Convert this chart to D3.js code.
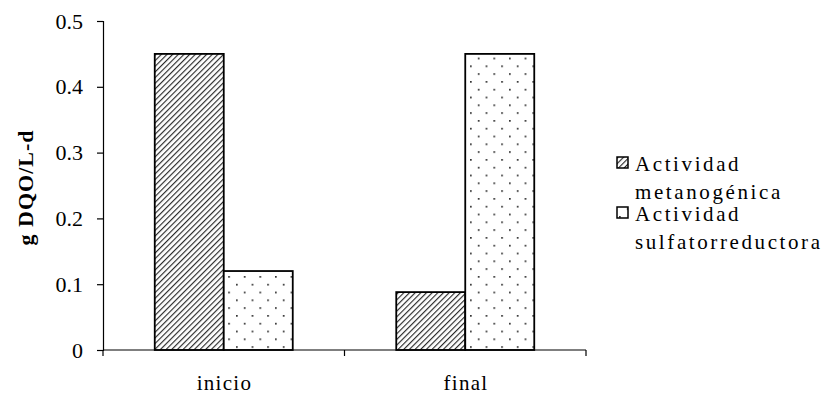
<!DOCTYPE html>
<html>
<head>
<meta charset="utf-8">
<script src="https://cdn.jsdelivr.net/npm/d3@7"></script>
<style>
  html, body { margin: 0; padding: 0; background: #fff; }
  text { font-family: "Liberation Serif", "Times New Roman", serif; fill: #000; }
</style>
</head>
<body>
<svg id="chart" width="830" height="403"></svg>
<script>
// Activity per stage (g DQO/L-d)
const categories = ["inicio", "final"];
const seriesNames = ["Actividad metanogénica", "Actividad sulfatorreductora"];
const metanogenica = [0.45, 0.088];
const sulfatorreductora = [0.12, 0.45];
const yTicks = [0, 0.1, 0.2, 0.3, 0.4, 0.5];
const yTickLabels = ["0", "0.1", "0.2", "0.3", "0.4", "0.5"];
const legendLines = [["Actividad", "metanogénica"], ["Actividad", "sulfatorreductora"]];

const svg = d3.select("#chart");
const margin = { left: 103, right: 244, top: 21, bottom: 53 };
const W = 830, H = 403;

// fill patterns: diagonal hatch and sparse dots
const defs = svg.append("defs");
const hatch = defs.append("pattern")
  .attr("id", "hatch").attr("patternUnits", "userSpaceOnUse")
  .attr("width", 4).attr("height", 4)
  .attr("patternTransform", "rotate(45)");
hatch.append("rect").attr("width", 4).attr("height", 4).attr("fill", "#fff");
hatch.append("line").attr("x1", 0).attr("y1", 0).attr("x2", 0).attr("y2", 4)
  .attr("stroke", "#2a2a2a").attr("stroke-width", 2.3);

const dots = defs.append("pattern")
  .attr("id", "dots").attr("patternUnits", "userSpaceOnUse")
  .attr("width", 15.6).attr("height", 15.6).attr("x", 2).attr("y", 3);
dots.append("rect").attr("width", 15.6).attr("height", 15.6).attr("fill", "#fff");
dots.append("rect").attr("x", 0).attr("y", 0).attr("width", 1.7).attr("height", 1.7).attr("fill", "#333");
dots.append("rect").attr("x", 7.8).attr("y", 7.8).attr("width", 1.7).attr("height", 1.7).attr("fill", "#333");

const x0 = d3.scaleBand().domain(categories)
  .range([margin.left, W - margin.right]).paddingInner(0).paddingOuter(0);
const x1 = d3.scaleBand().domain(seriesNames)
  .range([0, x0.bandwidth()]).paddingOuter(0.75).paddingInner(0);
const y = d3.scaleLinear().domain([0, 0.5]).range([H - margin.bottom, margin.top]);

const fills = ["url(#hatch)", "url(#dots)"];
const seriesValues = [metanogenica, sulfatorreductora];

seriesNames.forEach((s, si) => {
  svg.append("g").selectAll("rect")
    .data(categories.map((c, ci) => ({ c, v: seriesValues[si][ci] })))
    .join("rect")
    .attr("x", d => x0(d.c) + x1(s))
    .attr("y", d => y(d.v))
    .attr("width", x1.bandwidth())
    .attr("height", d => y(0) - y(d.v))
    .attr("fill", fills[si])
    .attr("stroke", "#000").attr("stroke-width", 1.8);
});

// y axis
const yAxis = svg.append("g")
  .attr("transform", `translate(${margin.left},0)`)
  .call(d3.axisLeft(y).tickValues(yTicks)
    .tickFormat((d, i) => yTickLabels[i]).tickSize(6).tickPadding(14));
yAxis.select(".domain").attr("stroke", "#000").attr("stroke-width", 1.2);
yAxis.selectAll(".tick line").attr("stroke", "#000").attr("stroke-width", 1.2);
yAxis.selectAll("text").style("font-size", "22px")
  .style("font-family", "Liberation Serif, serif");

// x axis with boundary ticks between categories
const xAxisG = svg.append("g").attr("transform", `translate(0,${y(0)})`);
xAxisG.append("line")
  .attr("x1", margin.left).attr("x2", W - margin.right)
  .attr("stroke", "#000").attr("stroke-width", 1.2);
const bounds = categories.map(c => x0(c)).concat([x0(categories[categories.length - 1]) + x0.bandwidth()]);
xAxisG.selectAll("line.tk").data(bounds).join("line").attr("class", "tk")
  .attr("x1", d => d).attr("x2", d => d).attr("y1", 0).attr("y2", 6)
  .attr("stroke", "#000").attr("stroke-width", 1.2);
xAxisG.selectAll("text").data(categories).join("text")
  .attr("x", d => x0(d) + x0.bandwidth() / 2 + 0.7)
  .attr("y", 40)
  .attr("text-anchor", "middle")
  .style("font-size", "21px").style("letter-spacing", "1.3px")
  .text(d => d);

// y label
svg.append("text")
  .attr("transform", `translate(33,${(y(0) + y(0.5)) / 2 + 2}) rotate(-90)`)
  .attr("text-anchor", "middle")
  .style("font-size", "22px").style("font-weight", "bold").style("letter-spacing", "1px")
  .text("g DQO/L-d");

// legend
const legend = svg.append("g");
const legendY = [163, 213];
legendLines.forEach((lines, i) => {
  const g = legend.append("g").attr("transform", `translate(617,${legendY[i]})`);
  g.append("rect").attr("x", 0).attr("y", -6).attr("width", 11).attr("height", 11)
    .attr("fill", fills[i]).attr("stroke", "#000").attr("stroke-width", 1.5);
  lines.forEach((t, li) => {
    g.append("text").attr("x", 18).attr("y", 8 + li * 28)
      .style("font-size", "21px").style("letter-spacing", "2.6px").text(t);
  });
});
</script>
</body>
</html>
